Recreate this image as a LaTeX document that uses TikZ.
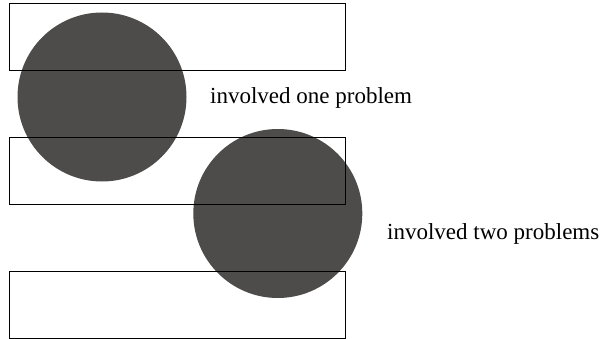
\documentclass[tikz,border=0pt]{standalone}
\usepackage{fontspec}
\setmainfont{Liberation Serif}
\definecolor{disc}{RGB}{77,76,74}
\tikzset{
  disc/.style={circle, fill=disc, draw=none, minimum size=169pt, inner sep=0pt},
  band/.style={draw=black, line width=0.9pt, fill=none},
  lbl/.style={anchor=base west, inner sep=0pt, font=\fontsize{23}{28}\selectfont}
}
\begin{document}
\begin{tikzpicture}[x=1pt,y=-1pt]
\useasboundingbox (0,0) rectangle (601,339);
\node[disc] (c1) at (102,97) {};
\node[disc] (c2) at (277.8,213.5) {};
\draw[band] (9.5,3.5) rectangle (345.3,70.2);
\draw[band] (9.5,137.5) rectangle (345.3,204.5);
\draw[band] (9.5,271.5) rectangle (345.3,338.2);
\node[lbl] (t1) at (210,104) {involved one problem};
\node[lbl] (t2) at (387,239) {involved two problems};
\end{tikzpicture}
\end{document}
